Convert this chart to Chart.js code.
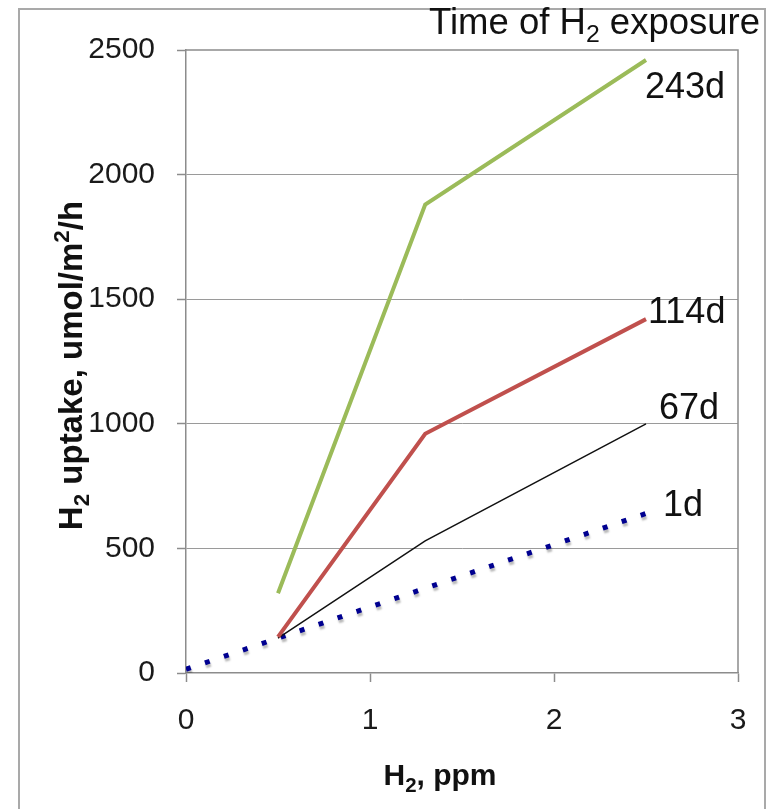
<!DOCTYPE html>
<html>
<head>
<meta charset="utf-8">
<script src="https://cdn.jsdelivr.net/npm/chart.js@4"></script>
<style>
  html, body { margin: 0; padding: 0; background: #fff; }
  #wrap { width: 769px; height: 809px; }
</style>
</head>
<body>
<div id="wrap"><canvas id="uptake" width="769" height="809"></canvas></div>
<script>
const uptakeEl = document.getElementById('uptake')

// H2 concentration, ppm
const ppm1d = [0, 0.5, 1.3, 2.5]
const ppmLong = [0.5, 1.3, 2.5]

// H2 uptake, umol/m2/h
const uptake243d = [320, 1880, 2460]
const uptake114d = [145, 960, 1420]
const uptake67d = [140, 530, 1000]
const uptake1d = [15, 140, 340, 640]

const seriesNames = ['243d', '114d', '67d', '1d']

// text pieces: [text, '' | 'sub' | 'sup']
const chartTitle = [['Time of H', ''], ['2', 'sub'], [' exposure', '']]
const xTitle = [['H', ''], ['2', 'sub'], [', ppm', '']]
const yTitle = [['H', ''], ['2', 'sub'], [' uptake, umol/m', ''], ['2', 'sup'], ['/h', '']]

const FONT = "'Liberation Sans', Arial, Helvetica, sans-serif"

const toPoints = (xs, ys) => xs.map((x, i) => ({ x: x, y: ys[i] }))

// draws a line of text with sub/superscripts; x is the anchor by align
function drawRich(c, parts, x, y, size, weight, align, angle) {
    const font = (s) => weight + ' ' + s + 'px ' + FONT
    const small = size * 0.68
    let total = 0
    const widths = parts.map(([t, m]) => {
        c.font = font(m ? small : size)
        const w = c.measureText(t).width
        total += w
        return w
    })
    c.save()
    c.translate(x, y)
    c.rotate(angle || 0)
    c.fillStyle = '#111'
    c.textBaseline = 'alphabetic'
    c.textAlign = 'left'
    let px = align === 'right' ? -total : align === 'center' ? -total / 2 : 0
    parts.forEach(([t, m], i) => {
        c.font = font(m ? small : size)
        const dy = m === 'sub' ? size * 0.22 : m === 'sup' ? -size * 0.38 : 0
        c.fillText(t, px, dy)
        px += widths[i]
    })
    c.restore()
}

// outer frame + plot box
const framePlugin = {
    id: 'frame',
    beforeDatasetsDraw(chart) {
        const c = chart.ctx
        const a = chart.chartArea
        c.save()
        c.strokeStyle = '#a9a9a9'
        c.lineWidth = 2
        c.beginPath()
        c.moveTo(19, 820)
        c.lineTo(19, 9)
        c.lineTo(765, 9)
        c.lineTo(765, 820)
        c.stroke()
        c.strokeStyle = '#8c8c8c'
        c.lineWidth = 1.5
        c.beginPath()
        c.moveTo(a.left, a.top)
        c.lineTo(a.right, a.top)
        c.lineTo(a.right, a.bottom)
        c.stroke()
        c.restore()
    }
}

// chart and axis titles (need real sub/superscripts)
const titlesPlugin = {
    id: 'titles',
    afterDraw(chart) {
        const c = chart.ctx
        const a = chart.chartArea
        drawRich(c, chartTitle, 760, 34, 36.5, 'normal', 'right', 0)
        drawRich(c, xTitle, 440, 785, 30, 'bold', 'center', 0)
        drawRich(c, yTitle, 82, (a.top + a.bottom) / 2 + 4, 33, 'bold', 'center', -Math.PI / 2)
    }
}

// series names next to the last point
const endLabelPlugin = {
    id: 'endLabels',
    afterDatasetsDraw(chart) {
        const c = chart.ctx
        c.save()
        c.font = '36px ' + FONT
        c.fillStyle = '#111'
        c.textBaseline = 'alphabetic'
        c.textAlign = 'left'
        chart.data.datasets.forEach((ds, i) => {
            const pts = chart.getDatasetMeta(i).data
            const last = pts[pts.length - 1]
            const off = ds.endLabel
            c.fillText(ds.label, last.x + off.dx, last.y + off.dy)
        })
        c.restore()
    }
}

// soft shadow under the dotted 1d line
const shadowPlugin = {
    id: 'dotShadow',
    beforeDatasetDraw(chart, args) {
        if (!chart.data.datasets[args.index].shadow) return
        const c = chart.ctx
        c.save()
        c.shadowColor = 'rgba(0,0,0,0.28)'
        c.shadowOffsetX = 1
        c.shadowOffsetY = 3
        c.shadowBlur = 2
    },
    afterDatasetDraw(chart, args) {
        if (!chart.data.datasets[args.index].shadow) return
        chart.ctx.restore()
    }
}

new Chart(uptakeEl, {
    type: 'line',
    data: {
        datasets: [
            {
                label: seriesNames[0],
                data: toPoints(ppmLong, uptake243d),
                borderColor: '#9bbb59',
                borderWidth: 4,
                endLabel: { dx: -1, dy: 38 }
            },
            {
                label: seriesNames[1],
                data: toPoints(ppmLong, uptake114d),
                borderColor: '#c0504d',
                borderWidth: 4,
                endLabel: { dx: 2, dy: 4 }
            },
            {
                label: seriesNames[2],
                data: toPoints(ppmLong, uptake67d),
                borderColor: '#111111',
                borderWidth: 1.5,
                endLabel: { dx: 13, dy: -5 }
            },
            {
                label: seriesNames[3],
                data: toPoints(ppm1d, uptake1d),
                borderColor: '#000090',
                borderWidth: 5,
                borderDash: [5, 15],
                borderCapStyle: 'butt',
                shadow: true,
                endLabel: { dx: 17, dy: 2 }
            }
        ]
    },
    options: {
        responsive: false,
        animation: false,
        devicePixelRatio: 1,
        layout: { padding: { left: 0, top: 50, right: 31, bottom: 0 } },
        elements: {
            point: { radius: 0 },
            line: { tension: 0, fill: false }
        },
        plugins: {
            legend: { display: false },
            tooltip: { enabled: false }
        },
        scales: {
            x: {
                type: 'linear',
                min: 0,
                max: 3,
                ticks: {
                    stepSize: 1,
                    padding: 21,
                    color: '#1a1a1a',
                    font: { family: FONT, size: 30 }
                },
                grid: {
                    drawOnChartArea: false,
                    drawTicks: true,
                    tickLength: 9,
                    tickColor: '#8c8c8c',
                    tickWidth: 1.5
                },
                border: { color: '#8c8c8c', width: 1.5 },
                afterFit: (s) => { s.height = 136 }
            },
            y: {
                type: 'linear',
                min: 0,
                max: 2500,
                ticks: {
                    stepSize: 500,
                    padding: 22,
                    color: '#1a1a1a',
                    font: { family: FONT, size: 30 },
                    callback: (v) => String(v)
                },
                grid: {
                    color: (ctx) => (ctx.tick && (ctx.tick.value === 0 || ctx.tick.value === 2500)) ? 'rgba(0,0,0,0)' : '#9a9a9a',
                    lineWidth: 1,
                    borderDash: [2, 2],
                    tickLength: 9,
                    tickColor: '#8c8c8c',
                    tickWidth: 1.5,
                    tickBorderDash: []
                },
                border: { color: '#8c8c8c', width: 1.5 },
                afterFit: (s) => { s.width = 186 }
            }
        }
    },
    plugins: [framePlugin, shadowPlugin, endLabelPlugin, titlesPlugin]
})
</script>
</body>
</html>
